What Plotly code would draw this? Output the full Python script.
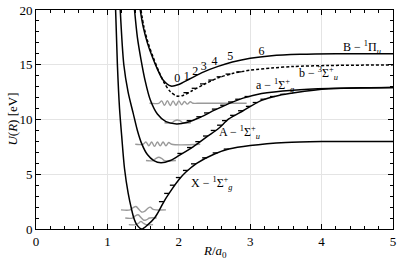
import numpy as np
import plotly.graph_objects as go

# ---- potential curves (R in a0, U in eV) ----
X_R = [1.115, 1.14, 1.17, 1.20, 1.24, 1.29, 1.34, 1.37, 1.41, 1.48, 1.56, 1.66, 1.73, 1.80, 1.90, 2.00, 2.10, 2.25, 2.50, 2.70, 3.00, 3.50, 4.00, 5.00]
X_U = [20.0, 15.0, 11.0, 8.5, 5.5, 3.3, 1.75, 1.0, 0.4, 0.0, 0.35, 1.0, 1.75, 2.6, 3.6, 4.5, 5.2, 6.0, 6.85, 7.3, 7.62, 7.9, 7.98, 8.0]

A_R = [1.18, 1.23, 1.29, 1.36, 1.42, 1.48, 1.56, 1.65, 1.75, 1.88, 2.00, 2.20, 2.40, 2.56, 2.70, 2.90, 3.16, 3.40, 3.62, 4.10, 4.60, 5.00]
A_U = [20.0, 15.0, 12.5, 10.6, 9.0, 7.8, 6.8, 6.25, 6.04, 6.25, 6.7, 7.5, 8.45, 9.2, 10.05, 10.8, 11.75, 12.2, 12.44, 12.8, 12.9, 12.92]

a_R = [1.38, 1.42, 1.47, 1.53, 1.60, 1.70, 1.82, 1.97, 2.12, 2.30, 2.50, 2.70, 2.90, 3.16, 3.60, 4.10, 5.00]
a_U = [20.0, 17.5, 15.5, 13.5, 11.8, 10.5, 9.8, 9.6, 9.75, 10.2, 10.85, 11.45, 11.95, 12.38, 12.68, 12.83, 12.92]

b_R = [1.47, 1.51, 1.57, 1.64, 1.72, 1.80, 1.88, 1.97, 2.06, 2.18, 2.35, 2.55, 2.75, 3.00, 3.30, 3.60, 4.10, 5.00]
b_U = [20.0, 18.5, 17.0, 15.7, 14.4, 13.3, 12.55, 12.15, 12.2, 12.6, 13.2, 13.8, 14.2, 14.5, 14.7, 14.84, 14.93, 14.99]

B_R = [1.46, 1.50, 1.56, 1.63, 1.70, 1.78, 1.89, 2.00, 2.15, 2.35, 2.55, 2.75, 3.00, 3.30, 3.70, 4.20, 5.00]
B_U = [20.0, 18.5, 17.0, 15.7, 14.6, 13.6, 13.05, 13.2, 13.7, 14.35, 14.85, 15.25, 15.6, 15.83, 15.95, 16.0, 16.0]

# ---- vibrational level energies marked on the right-hand walls ----
X_levels = [2.5, 3.25, 4.0, 4.7, 5.35, 5.95, 6.5, 6.95, 7.3]
A_levels = [6.9, 7.44, 7.98, 8.49, 9.0, 9.48, 9.9, 10.38, 10.8, 11.2, 11.55, 11.85, 12.1, 12.3]
a_levels = [9.9, 10.25, 10.6, 10.95, 11.3, 11.6, 11.85, 12.1]
b_levels = [12.45, 12.85, 13.25, 13.6, 13.9, 14.15, 14.35]

# ---- B state level labels ----
B_lab_text = ["0", "1", "2", "3", "4", "5", "6"]
B_lab_R = [1.98, 2.11, 2.23, 2.35, 2.50, 2.72, 3.16]
B_lab_U = [13.67, 13.88, 14.33, 14.78, 15.23, 15.68, 16.13]

# ---- gray wavefunctions ----
waves = [
    ([1.30, 1.40, 1.44, 1.47, 1.50, 1.54, 1.64],
     [0.4, 0.4, 0.55, 0.7, 0.55, 0.4, 0.4]),
    ([1.25, 1.35, 1.39, 1.43, 1.47, 1.51, 1.55, 1.59, 1.69],
     [1.0, 1.0, 1.2, 1.3, 1.05, 0.8, 0.85, 1.0, 1.0]),
    ([1.19, 1.32, 1.36, 1.40, 1.44, 1.48, 1.52, 1.56, 1.60, 1.64, 1.82],
     [1.75, 1.75, 1.95, 2.05, 1.8, 1.55, 1.6, 1.85, 2.0, 1.8, 1.75]),
    ([1.54, 1.64, 1.68, 1.72, 1.76, 1.80, 1.96],
     [6.25, 6.25, 6.45, 6.55, 6.45, 6.25, 6.25]),
    ([1.39, 1.50, 1.54, 1.58, 1.62, 1.66, 1.70, 1.74, 1.78, 1.82, 1.86, 1.90, 2.30],
     [7.74, 7.74, 7.95, 7.6, 7.95, 7.55, 7.95, 7.6, 7.95, 7.6, 7.9, 7.74, 7.74]),
    ([1.80, 1.90, 1.94, 1.98, 2.02, 2.06, 2.17],
     [9.7, 9.7, 9.88, 9.95, 9.88, 9.7, 9.7]),
    ([1.59, 1.72, 1.76, 1.80, 1.84, 1.88, 1.92, 1.96, 2.00, 2.04, 2.08, 2.12, 2.16, 2.20, 2.26, 2.95],
     [11.48, 11.48, 11.7, 11.3, 11.72, 11.28, 11.7, 11.3, 11.7, 11.35, 11.65, 11.4, 11.62, 11.48, 11.48, 11.48]),
]

SERIF = "Times New Roman, Liberation Serif, serif"
TICK_LEN = 0.07

fig = go.Figure()

for wr, wu in waves:
    fig.add_trace(go.Scatter(x=wr, y=wu, mode="lines",
                             line=dict(color="#9a9a9a", width=1.4, shape="spline", smoothing=1.0),
                             hoverinfo="skip", showlegend=False))

curves = [(X_R, X_U, "solid"), (A_R, A_U, "solid"), (a_R, a_U, "solid"),
          (b_R, b_U, "3px,2px"), (B_R, B_U, "solid")]
for cr, cu, dash in curves:
    fig.add_trace(go.Scatter(x=cr, y=cu, mode="lines",
                             line=dict(color="black", width=1.5, shape="spline", smoothing=0.8, dash=dash),
                             hoverinfo="skip", showlegend=False))


def level_ticks(cr, cu, levels):
    cr = np.array(cr)
    cu = np.array(cu)
    i0 = int(np.argmin(cu))
    rr = cr[i0:]
    uu = cu[i0:]
    xs, ys = [], []
    for lv in levels:
        r = float(np.interp(lv, uu, rr))
        xs += [r - TICK_LEN, r, None]
        ys += [lv, lv, None]
    return xs, ys


for cr, cu, lv in [(X_R, X_U, X_levels), (A_R, A_U, A_levels),
                   (a_R, a_U, a_levels), (b_R, b_U, b_levels)]:
    tx, ty = level_ticks(cr, cu, lv)
    fig.add_trace(go.Scatter(x=tx, y=ty, mode="lines",
                             line=dict(color="black", width=1.3),
                             hoverinfo="skip", showlegend=False))

fig.add_trace(go.Scatter(x=B_lab_R, y=B_lab_U, mode="text", text=B_lab_text,
                         textfont=dict(family=SERIF, size=12, color="black"),
                         hoverinfo="skip", showlegend=False))

state_labels = [
    ("B − <sup>1</sup>Π<sub><i>u</i></sub>", 4.27, 16.6),
    ("b − <sup>3</sup>Σ<sup>+</sup><sub><i>u</i></sub>", 3.65, 14.2),
    ("a − <sup>1</sup>Σ<sup>+</sup><sub><i>g</i></sub>", 3.05, 13.1),
    ("A − <sup>1</sup>Σ<sup>+</sup><sub><i>u</i></sub>", 2.54, 8.8),
    ("X − <sup>1</sup>Σ<sup>+</sup><sub><i>g</i></sub>", 2.14, 4.2),
]
for txt, r, u in state_labels:
    fig.add_annotation(x=r, y=u, text=txt, showarrow=False, xanchor="left", yanchor="middle",
                       font=dict(family=SERIF, size=12, color="black"))

fig.add_annotation(xref="paper", yref="paper", x=0.5, y=-0.105, text="<i>R</i>/<i>a</i><sub>0</sub>",
                   showarrow=False, xanchor="center", yanchor="middle",
                   font=dict(family=SERIF, size=13, color="black"))
fig.add_annotation(xref="paper", yref="paper", x=-0.067, y=0.5, text="<i>U</i>(<i>R</i>) [eV]",
                   showarrow=False, xanchor="center", yanchor="middle", textangle=-90,
                   font=dict(family=SERIF, size=13, color="black"))

axis_common = dict(showline=True, linecolor="black", linewidth=1, mirror="allticks",
                   ticks="inside", ticklen=5, tickcolor="black", tickwidth=1,
                   showgrid=True, gridcolor="#e4e4e4", gridwidth=1, zeroline=False,
                   ticklabeloverflow="allow",
                   tickfont=dict(family=SERIF, size=13, color="black"))
fig.update_xaxes(range=[0, 5], tickvals=[0, 1, 2, 3, 4, 5],
                 minor=dict(dtick=0.2, ticks="inside", ticklen=3, tickcolor="black", showgrid=False),
                 **axis_common)
fig.update_yaxes(range=[0, 20], tickvals=[0, 5, 10, 15, 20],
                 minor=dict(dtick=1, ticks="inside", ticklen=3, tickcolor="black", showgrid=False),
                 **axis_common)

fig.update_layout(width=399, height=266, margin=dict(l=36, r=3, t=7, b=37),
                  plot_bgcolor="white", paper_bgcolor="white", showlegend=False,
                  font=dict(family=SERIF, color="black"))

fig.write_html("out.html", config={"displayModeBar": False},
               post_script="document.body.style.margin='0px';")
